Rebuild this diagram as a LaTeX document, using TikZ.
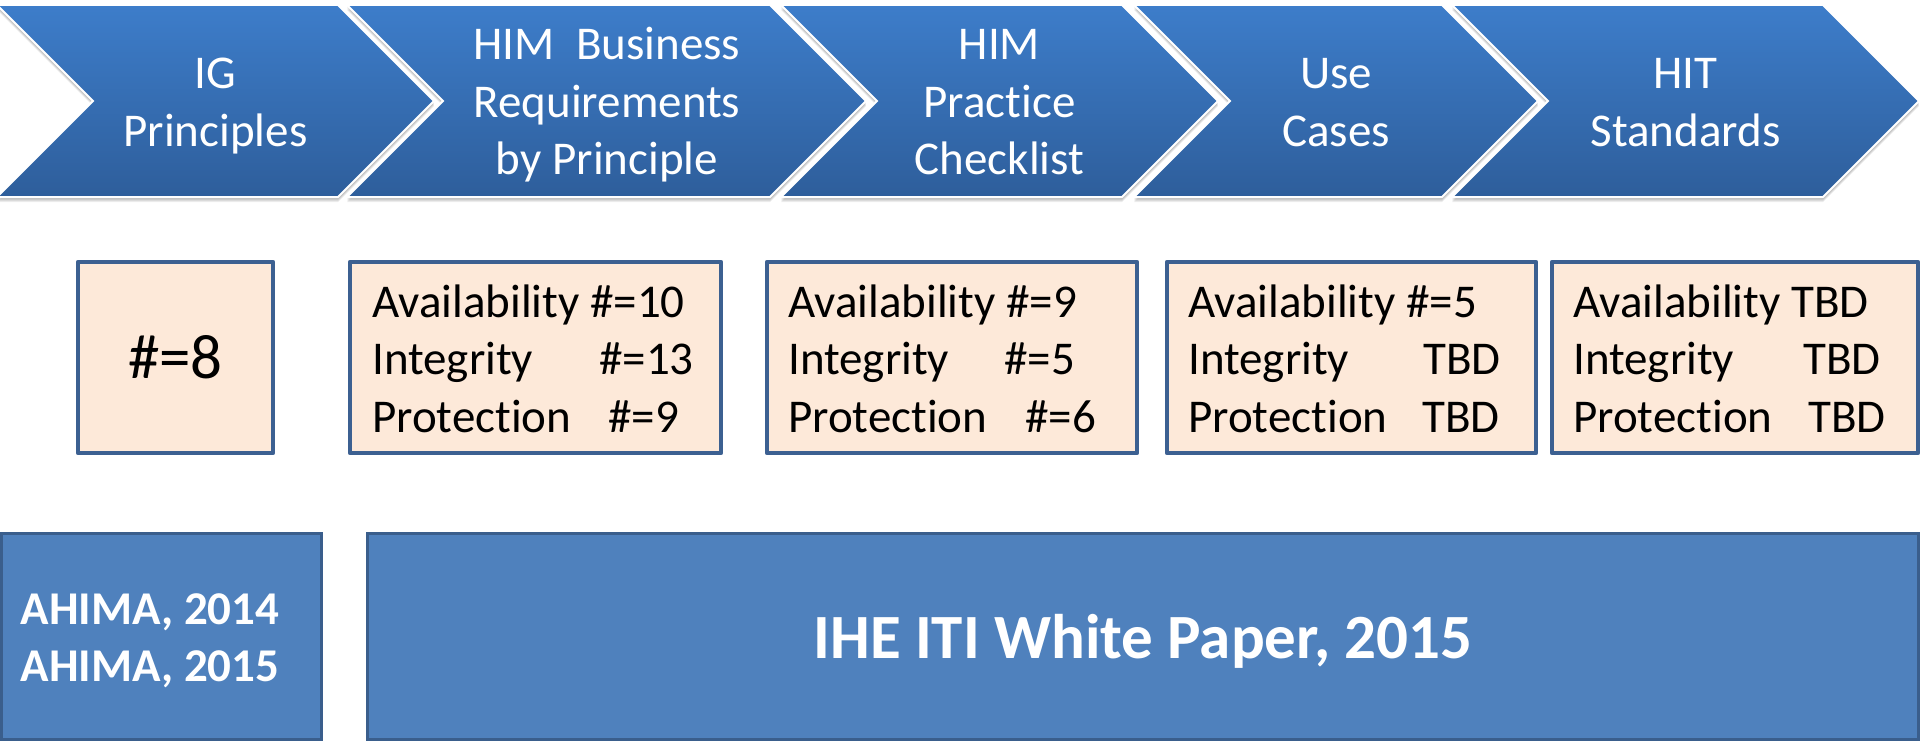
\documentclass[tikz,border=0pt]{standalone}
\usepackage{fontspec}
\setmainfont{Carlito}[Ligatures={NoCommon,NoContextual}]
\definecolor{chevtop}{RGB}{61,125,202}
\definecolor{chevbot}{RGB}{46,94,155}
\definecolor{boxfill}{RGB}{253,233,217}
\definecolor{boxline}{RGB}{60,96,145}
\definecolor{srcfill}{RGB}{79,129,189}
\definecolor{srcline}{RGB}{58,94,140}
\begin{document}
\begin{tikzpicture}[x=1pt,y=-1pt,
  chev/.style={top color=chevtop, bottom color=chevbot, draw=white, line width=2pt, line join=miter},
  chevshadow/.style={fill=black, opacity=0.07},
  chevtext/.style={text=white, font=\fontsize{47}{57.5}\selectfont, anchor=base, inner sep=0pt},
  infobox/.style={fill=boxfill, draw=boxline, line width=4.5pt, line join=round, inner sep=0pt},
  infotext/.style={font=\fontsize{47}{57.5}\selectfont, anchor=base west, inner sep=0pt},
  bigtext/.style={font=\fontsize{63}{75}\selectfont, anchor=base, inner sep=0pt},
  srcbox/.style={fill=srcfill, draw=srcline, line width=3pt, inner sep=0pt},
  srctext/.style={text=white, font=\bfseries\fontsize{47}{57.5}\selectfont, anchor=base, inner sep=0pt},
  srcbig/.style={text=white, font=\bfseries\fontsize{63}{75}\selectfont, anchor=base, inner sep=0pt}]
\useasboundingbox (0,0) rectangle (1920,741);
\fill[white] (0,0) rectangle (1920,741);

% chevrons
\foreach \L/\R in {-3/338, 347/770, 781/1122, 1134/1442, 1452/1823} {
  \foreach \s in {1,2,3,4,5} {
    \fill[chevshadow, shift={(0,\s)}] (\L,5) -- (\R,5) -- (\R+96,101) -- (\R,197) -- (\L,197) -- (\L+96,101) -- cycle;
  }
  \path[chev] (\L,5) -- (\R,5) -- (\R+96,101) -- (\R,197) -- (\L,197) -- (\L+96,101) -- cycle;
}

% chevron labels
\node[chevtext] (c1a) at (215.5,89) {IG};
\node[chevtext] (c1b) at (215.5,146.5) {Principles};
\node[chevtext] (c2a) at (607,60) {HIM\ \ Business};
\node[chevtext] (c2b) at (607,117.5) {Requirements};
\node[chevtext] (c2c) at (607,175) {by Principle};
\node[chevtext] (c3a) at (999.5,60) {HIM};
\node[chevtext] (c3b) at (999.5,117.5) {Practice};
\node[chevtext] (c3c) at (999.5,175) {Checklist};
\node[chevtext] (c4a) at (1336,89) {Use};
\node[chevtext] (c4b) at (1336,146.5) {Cases};
\node[chevtext] (c5a) at (1685.5,89) {HIT};
\node[chevtext] (c5b) at (1685.5,146.5) {Standards};

% middle boxes
\node[infobox, minimum width=195pt, minimum height=191pt] (b1) at (175.5,357.5) {};
\node[infobox, minimum width=371pt, minimum height=191pt] (b2) at (535.5,357.5) {};
\node[infobox, minimum width=370pt, minimum height=191pt] (b3) at (952,357.5) {};
\node[infobox, minimum width=369pt, minimum height=191pt] (b4) at (1351.5,357.5) {};
\node[infobox, minimum width=366pt, minimum height=191pt] (b5) at (1735,357.5) {};

\node[bigtext] (t1) at (175.5,378) {\#=8};

\node[infotext] (t2a) at (372,317) {Availability \#=10};
\node[infotext] (t2b) at (372,374.5) {Integrity\hspace{66pt}\#=13};
\node[infotext] (t2c) at (372,432) {Protection\hspace{37pt}\#=9};

\node[infotext] (t3a) at (788,317) {Availability \#=9};
\node[infotext] (t3b) at (788,374.5) {Integrity\hspace{55pt}\#=5};
\node[infotext] (t3c) at (788,432) {Protection\hspace{38pt}\#=6};

\node[infotext] (t4a) at (1188,317) {Availability \#=5};
\node[infotext] (t4b) at (1188,374.5) {Integrity\hspace{74pt}TBD};
\node[infotext] (t4c) at (1188,432) {Protection\hspace{35pt}TBD};

\node[infotext] (t5a) at (1573,317) {Availability TBD};
\node[infotext] (t5b) at (1573,374.5) {Integrity\hspace{69pt}TBD};
\node[infotext] (t5c) at (1573,432) {Protection\hspace{36pt}TBD};

% bottom boxes
\node[srcbox, minimum width=319.5pt, minimum height=206.5pt] (s1) at (161.25,636.25) {};
\node[srcbox, minimum width=1551.5pt, minimum height=206.5pt] (s2) at (1142.75,636.25) {};
\node[srctext] (s1a) at (150,624) {AHIMA, 2014};
\node[srctext] (s1b) at (150,681.5) {AHIMA, 2015};
\node[srcbig] (s2a) at (1143,658) {IHE ITI White Paper, 2015};
\end{tikzpicture}
\end{document}
